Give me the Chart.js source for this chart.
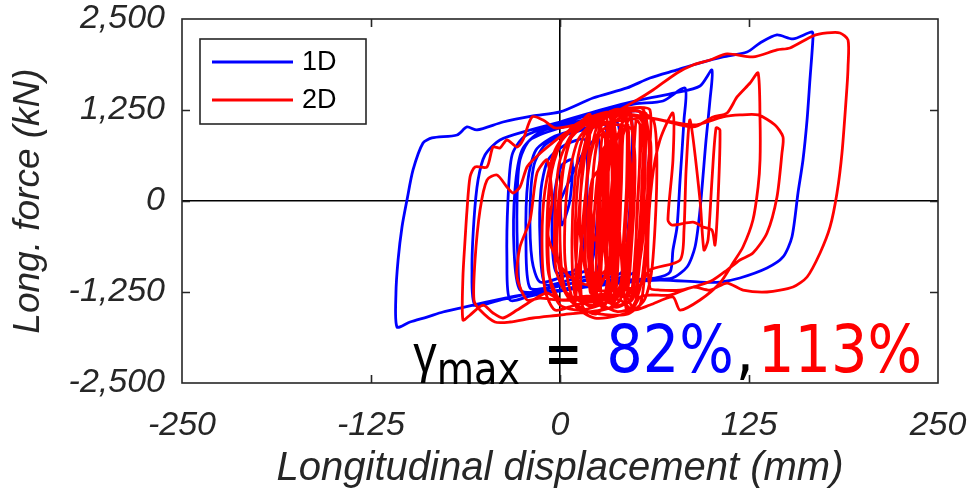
<!DOCTYPE html>
<html>
<head>
<meta charset="utf-8">
<title>Hysteresis</title>
<script src="https://cdn.jsdelivr.net/npm/chart.js@4.4.1/dist/chart.umd.min.js"></script>
<style>
  html, body { margin: 0; padding: 0; background: #fff; }
  #wrap { width: 977px; height: 498px; }
</style>
</head>
<body>
<div id="wrap"><canvas id="hyst" width="977" height="498"></canvas></div>
<script>
// axis ranges and tick marks
const xTicks = [-250, -125, 0, 125, 250];
const yTicks = [-2500, -1250, 0, 1250, 2500];
const seriesLabels = ['1D', '2D'];
const gammaText = ['82%', '113%'];
const gammaAt = { x: -97, y: -2350 };

// 1D run: [displacement mm, force kN]
const blueInner = [[0,0],[7.9,357],[16.5,700],[25.1,866],[26.5,563],[24.5,-261],[19.8,-920],[3.3,-1030],[-13.2,-1113],[-18.5,-810],[-19.8,-124],[-17.2,495],[-9.9,769],[3.3,907],[23.1,1017],[37.7,1085],[39.7,563],[36.4,-330],[33.1,-976],[16.5,-1085],[-3.3,-1182],[-25.1,-1250],[-27.8,-810],[-28.4,14],[-26.5,563],[-19.8,838],[0,1003],[26.5,1140],[52.9,1223],[56.2,701],[54.2,-261],[50.9,-948],[33.1,-1085],[6.6,-1195],[-19.8,-1305],[-33.1,-1360],[-35.1,-810],[-34.4,14],[-31.7,632],[-23.1,893],[0,1058],[26.5,1223],[49.6,1333],[68.1,1374]];
const blueMid = [[82.7,1552],[82,1113],[79.4,288],[77.4,-357],[74.7,-673],[72.8,-976],[62.8,-1058],[44.3,-1085],[21.8,-1140],[0,-1223],[-21.8,-1278],[-39.7,-1360],[-56.2,-1429],[-58.2,-948],[-56.9,-261],[-54.2,288],[-49.6,632],[-39.7,838],[-19.8,975],[0,1085],[26.5,1250],[52.9,1388],[76.1,1484],[92.6,1580],[100.5,1800],[99.2,1388],[96.6,838],[92.6,-124],[89.3,-632],[84,-907],[74.1,-1058],[44.3,-1099],[21.8,-1154],[0,-1237],[-21.8,-1278],[-33.1,-1319]];
const blueOuter = [[-66.1,-1470],[-77.4,-1525],[-88,-1594],[-99.2,-1662],[-107.8,-1731],[-108.5,-1264],[-107.1,-811],[-104.5,-357],[-101.2,14],[-97.2,426],[-90.6,797],[-84.7,866],[-68.1,907],[-61.5,1017],[-54.9,976],[-37.7,1085],[-17.9,1168],[0,1223],[21.8,1415],[44.3,1553],[59.5,1690],[77.4,1800],[92.6,1896],[107.8,1979],[123.7,2047],[132.3,2171],[143.5,2281],[154.1,2226],[166.7,2322],[167.3,2240],[165.3,1663],[163.4,1113],[160.7,563],[157.4,110],[153.4,-495],[147.5,-769],[136.9,-921],[119,-1058],[105.8,-1113],[92.6,-1113]];
const blueDecay = [[66.1,-1085],[39.7,-1127],[13.2,-1195],[-9.9,-1250],[-26.5,-1223],[-30.4,-673],[-29.8,151],[-25.1,701],[-13.2,948],[9.9,1085],[33.1,1182],[46.3,1223],[47.6,563],[45,-398],[41,-976],[19.8,-1085],[-3.3,-1168],[-19.8,-1195],[-22.5,-536],[-21.2,288],[-15.9,701],[-3.3,893],[16.5,1003],[29.8,1058],[30.4,426],[27.8,-536],[23.8,-976],[6.6,-1085],[-9.9,-1140],[-13.2,-536],[-12.6,151],[-7.9,563],[3.3,770],[16.5,838],[17.9,151],[15.2,-673],[9.9,-948],[-2.6,-976],[-5.3,-398],[-3.3,151],[1.3,495],[7.9,563],[6.6,14],[1.3,-330],[0,0]];

// 2D run: [displacement mm, force kN]
const redCentre = [[13.2,14],[16.5,701],[23.1,1044],[29.8,907],[28.4,14],[25.1,-1085],[18.5,-1360],[9.9,-1292],[7.9,-536],[9.9,288],[14.6,838],[23.1,1113],[34.4,1140],[36.4,288],[33.1,-811],[28.4,-1360],[19.8,-1429],[11.9,-1360],[3.3,-1223],[0,-536],[1.3,288],[6.6,838],[16.5,1044],[26.5,1140],[43,1182],[45,426],[42.3,-673],[38.4,-1292],[26.5,-1429],[13.2,-1498],[0,-1429],[-6.6,-1085],[-7.9,-261],[-5.3,426],[3.3,907],[19.8,1140],[52.9,1223],[54.2,288],[50.9,-811],[46.3,-1360],[33.1,-1470],[19.8,-1525],[6.6,-1360],[-2.6,-948],[-3.3,-124],[0,563],[9.9,976],[26.5,1182],[46.3,1278],[59.5,1250],[58.2,426],[56.9,-673],[52.9,-1429],[39.7,-1566],[23.1,-1608],[9.9,-1429],[3.3,-811],[4.6,151],[11.9,838],[25.1,1140],[39.7,1250]];
const redLeft = [[41,563],[38.4,-536],[33.1,-1223],[19.8,-1333],[0,-1360],[-13.2,-1333],[-21.8,-1360],[-28.4,-1044],[-26.5,-632],[-19.8,-261],[-15.2,385],[-8.6,563],[-5.3,14],[-7.9,-467],[-2,-811],[6.6,-1044],[19.8,-1154],[34.4,-948],[38.4,14],[41,838],[46.3,1140],[49.6,563],[47.6,-536],[43,-1223],[26.5,-1333],[0,-1360],[-8.6,-1264],[-17.9,-1360],[-28.4,-1498],[-37.7,-1607],[-44.3,-1539],[-50.9,-1429],[-59.5,-1566],[-64.2,-1635],[-64.2,-1044],[-62.8,-536],[-61.5,-124],[-59.5,330],[-56.2,467],[-48.3,467],[-44.3,742],[-39.7,728],[-35.1,838],[-28.4,742],[-24.5,838],[-18.5,1154],[-11.2,1113],[-3.3,1003],[9.9,1044],[26.5,1140],[52.9,1223],[56.2,426],[52.9,-811],[47.6,-1360],[26.5,-1498],[0,-1566],[-17.9,-1607],[-33.1,-1662],[-43,-1662],[-52.9,-1498],[-56.9,-1360],[-56.2,-811],[-52.9,-124],[-48.3,288],[-41.7,357],[-35.1,192],[-31.1,110],[-26.5,192],[-21.8,467],[-16.5,591],[-6.6,770],[6.6,976],[26.5,1113]];
const redRight = [[50.9,1388],[61.5,1525],[77.4,1759],[88,1869],[99.2,1937],[110.5,2020],[127.6,1979],[143.5,2075],[152.1,2102],[167.3,2267],[176.6,2308],[185.2,2308],[190.5,2212],[190.5,1841],[189.8,1566],[186.5,660],[183.2,110],[178.6,-357],[172,-714],[163.4,-1044],[154.1,-1182],[136.9,-1250],[121,-1223],[110.5,-1127],[99.2,-1223],[88,-1182],[72.8,-1292],[59.5,-1292],[52.9,-1319],[48.3,-1470],[44.3,-1333],[33.1,-1292],[11.2,-1319],[0,-1360]];
const redPeak = [[-7.9,-948],[-7.9,14],[-2.6,701],[9.9,1003],[33.1,1085],[59.5,1140],[88,1017],[101.2,1154],[110.5,1209],[117.1,1429],[125.7,1621],[131,1759],[132.3,1113],[132.3,563],[131,192],[127.6,-261],[121,-632],[114.4,-852],[105.8,-1127],[92.6,-1360],[79.4,-1498],[74.7,-1319],[59.5,-1429],[48.3,-1498],[39.7,-1360],[26.5,-1360],[9.9,-1429],[-3.3,-1498],[-9.9,-1223],[-11.9,-536],[-9.9,151],[-3.3,701],[9.9,1044],[33.1,1223]];
const redSpikes = [[88,1044],[107.8,1154],[119,1182],[131,1182],[142.2,1044],[147.5,879],[146.8,660],[143.5,55],[136.9,-440],[127.6,-714],[119,-811],[110.5,-948],[101.2,-1085],[92.6,-1154],[79.4,-1223],[66.1,-1223],[59.5,-1195],[58.2,-536],[60.9,288],[66.1,838],[74.7,1209],[74.7,563],[71.4,-261],[74.1,-330],[88,-289],[94.6,-357],[100.5,-398],[102.5,-605],[104.5,14],[105.8,975],[103.2,1003],[100.5,288],[97.9,-536],[95.2,-673],[92.6,14],[86,1113],[83.4,426],[82,-398],[79.4,-811]];
const redDecay = [[59.5,-948],[52.9,-1154],[39.7,-1223],[19.8,-1195],[16.5,-536],[18.5,426],[24.5,907],[31.1,838],[31.7,-124],[29.8,-1017],[24.5,-1223],[18.5,-1113],[13.2,-398],[15.2,563],[19.8,976],[26.5,1044],[39.7,1044],[47.6,976],[48.3,14],[44.9,-879],[39.7,-1292],[29.8,-1360],[21.2,-1292],[21.8,-536],[24.5,288],[28.4,701],[34.4,838],[36.4,14],[34.4,-811],[26.5,-1017],[19.8,-948],[18.5,-261],[21.2,288],[26.5,426],[28.4,-124],[23.1,-536],[19.8,14],[23.1,-1360],[25.1,14],[28.4,976],[33.1,1003],[34.4,-261],[31.7,-1223],[36.4,-1360],[39.7,-261],[41.7,907],[45,1044],[46.3,-124],[43.7,-1154],[47.6,-1223],[51.6,14],[52.9,1044],[50.3,1113],[47.6,151],[42.3,-948],[34.4,-1429],[29.8,-673],[31.7,563],[35.7,1044],[38.4,151],[34.4,-1223]];
const redCore = [[20,-1250],[22,400],[27,1100],[31,1150],[30,0],[27,-1300],[35,-1400],[38,-200],[40,1000],[44,1150],[44,200],[41,-1250],[48,-1300],[51,-100],[55,1150],[57,1200],[55,0],[50,-1400],[44,-1500],[40,-600],[36,600],[33,1150],[25,1180],[18,900],[12,300],[10,-600],[14,-1350],[22,-1450],[28,-700],[32,400],[37,1200],[42,1260],[47,400],[47,-700],[43,-1400],[36,-1450],[31,-800],[29,300],[34,1100],[50,1240],[62,1100],[64,300],[61,-900],[56,-1350],[45,-1550],[30,-1560],[17,-1500],[5,-1300],[-2,-700],[0,200],[8,900],[20,1180]];
const redTail = [[10,-1400],[12,-300],[18,800],[26,1180],[34,1200],[38,600],[37,-500],[33,-1300],[24,-1550],[15,-1450],[14,-700],[18,300],[24,1000],[30,1150],[40,1180],[52,1150],[60,800],[58,-200],[54,-1100],[48,-1450],[38,-1520],[28,-1400],[26,-600],[28,500],[35,1050],[46,1200],[49,600],[45,-600],[40,-1350],[30,-1480],[22,-1300],[20,-400],[23,600],[29,1120],[37,1220],[55,1260],[59,500],[53,-800],[45,-1300],[36,-1250],[33,-300],[37,800],[43,1180]];

const blueRun = [...blueInner, ...blueMid, ...blueOuter, ...blueDecay];
const redRun = [...redCentre, ...redLeft, ...redRight, ...redPeak, ...redSpikes, ...redDecay, ...redCore, ...redTail];

const AXIS_COLOR = '#262626';
const BLUE = '#0000ff';
const RED = '#ff0000';
const ARIAL = '"Liberation Sans", Arial, sans-serif';
const VERDANA = '"DejaVu Sans", Verdana, sans-serif';

const toPoints = run => run.map(([x, y]) => ({ x, y }));
const fmt = v => v.toLocaleString('en-US');

// box, inward ticks, legend and the shear-strain note
const framePlugin = {
  id: 'frame',
  afterDatasetsDraw(chart) {
    const { ctx, chartArea: a, scales: { x, y } } = chart;
    ctx.save();
    ctx.strokeStyle = AXIS_COLOR;
    ctx.lineWidth = 1.6;
    ctx.strokeRect(a.left, a.top, a.right - a.left, a.bottom - a.top);
    ctx.beginPath();
    xTicks.slice(1, -1).forEach(v => {
      const px = Math.round(x.getPixelForValue(v)) + 0.5;
      ctx.moveTo(px, a.bottom); ctx.lineTo(px, a.bottom - 8);
      ctx.moveTo(px, a.top); ctx.lineTo(px, a.top + 8);
    });
    yTicks.slice(1, -1).forEach(v => {
      const py = Math.round(y.getPixelForValue(v)) + 0.5;
      ctx.moveTo(a.left, py); ctx.lineTo(a.left + 8, py);
      ctx.moveTo(a.right, py); ctx.lineTo(a.right - 8, py);
    });
    ctx.stroke();

    // legend
    const lx = a.left + 18, ly = a.top + 20;
    ctx.fillStyle = '#fff';
    ctx.fillRect(lx, ly, 166, 85);
    ctx.strokeRect(lx, ly, 166, 85);
    ctx.font = '27px ' + ARIAL;
    ctx.textBaseline = 'middle';
    [BLUE, RED].forEach((c, i) => {
      const ry = ly + 23 + i * 38;
      ctx.strokeStyle = c;
      ctx.lineWidth = 3;
      ctx.beginPath(); ctx.moveTo(lx + 12, ry); ctx.lineTo(lx + 93, ry); ctx.stroke();
      ctx.fillStyle = '#000';
      ctx.fillText(seriesLabels[i], lx + 102, ry + 1);
    });

    // gamma_max note
    const runs = [
      { t: '\u03b3', font: '54px ' + ARIAL, color: '#000', dy: 0, gap: 0 },
      { t: 'max', font: '44px ' + VERDANA, color: '#000', dy: 12, gap: 24 },
      { t: '=', font: 'bold 52px ' + VERDANA, color: '#000', dy: -1, gap: 24 },
      { t: gammaText[0], font: '66px ' + VERDANA, color: BLUE, dy: 0, gap: 2 },
      { t: ',', font: '66px ' + VERDANA, color: '#000', dy: 0, gap: 4 },
      { t: gammaText[1], font: '66px ' + VERDANA, color: RED, dy: 0, gap: 0 }
    ];
    const squeeze = 0.87;
    let cx = x.getPixelForValue(gammaAt.x);
    const base = y.getPixelForValue(gammaAt.y);
    ctx.textBaseline = 'alphabetic';
    ctx.textAlign = 'left';
    runs.forEach(r => {
      ctx.font = r.font;
      ctx.fillStyle = r.color;
      ctx.save();
      ctx.translate(cx, base + r.dy);
      ctx.scale(squeeze, 1);
      ctx.fillText(r.t, 0, 0);
      ctx.restore();
      cx += ctx.measureText(r.t).width * squeeze + r.gap;
    });
    ctx.restore();
  }
};

const zeroLine = () => ctx => (ctx.tick && ctx.tick.value === 0 ? '#000' : 'rgba(0,0,0,0)');

new Chart(document.getElementById('hyst'), {
  type: 'scatter',
  data: {
    datasets: [
      { label: seriesLabels[1], data: toPoints(redRun), borderColor: RED, order: 0 },
      { label: seriesLabels[0], data: toPoints(blueRun), borderColor: BLUE, order: 1 }
    ]
  },
  options: {
    responsive: false,
    animation: false,
    showLine: true,
    layout: { padding: { top: 19, right: 39, left: 0, bottom: 0 } },
    elements: {
      point: { radius: 0, hoverRadius: 0 },
      line: { borderWidth: 2.8, tension: 0.25, fill: false, borderJoinStyle: 'round', borderCapStyle: 'round' }
    },
    plugins: { legend: { display: false }, tooltip: { enabled: false } },
    scales: {
      x: {
        type: 'linear', min: -250, max: 250,
        afterBuildTicks: s => { s.ticks = xTicks.map(value => ({ value })); },
        afterFit: s => { s.height = 115; s.paddingLeft = 0; s.paddingRight = 0; },
        border: { display: false },
        grid: { drawTicks: false, color: zeroLine(), lineWidth: 1.6 },
        ticks: {
          autoSkip: false, maxRotation: 0, padding: 26, color: AXIS_COLOR,
          font: { family: ARIAL, size: 34, style: 'italic', lineHeight: 1 },
          callback: v => fmt(v)
        },
        title: {
          display: true, text: 'Longitudinal displacement (mm)', color: AXIS_COLOR,
          font: { family: ARIAL, size: 40, style: 'italic' },
          padding: { top: 0, bottom: 5 }
        }
      },
      y: {
        type: 'linear', min: -2500, max: 2500,
        afterBuildTicks: s => { s.ticks = yTicks.map(value => ({ value })); },
        afterFit: s => { s.width = 182; s.paddingTop = 0; s.paddingBottom = 0; },
        border: { display: false },
        grid: { drawTicks: false, color: zeroLine(), lineWidth: 1.6 },
        ticks: {
          autoSkip: false, padding: 17, color: AXIS_COLOR,
          font: { family: ARIAL, size: 34, style: 'italic', lineHeight: 1 },
          callback: v => fmt(v)
        },
        title: {
          display: true, text: 'Long. force (kN)', color: AXIS_COLOR,
          font: { family: ARIAL, size: 37, style: 'italic' },
          padding: { top: 7, bottom: 0 }
        }
      }
    }
  },
  plugins: [framePlugin]
});
</script>
</body>
</html>
